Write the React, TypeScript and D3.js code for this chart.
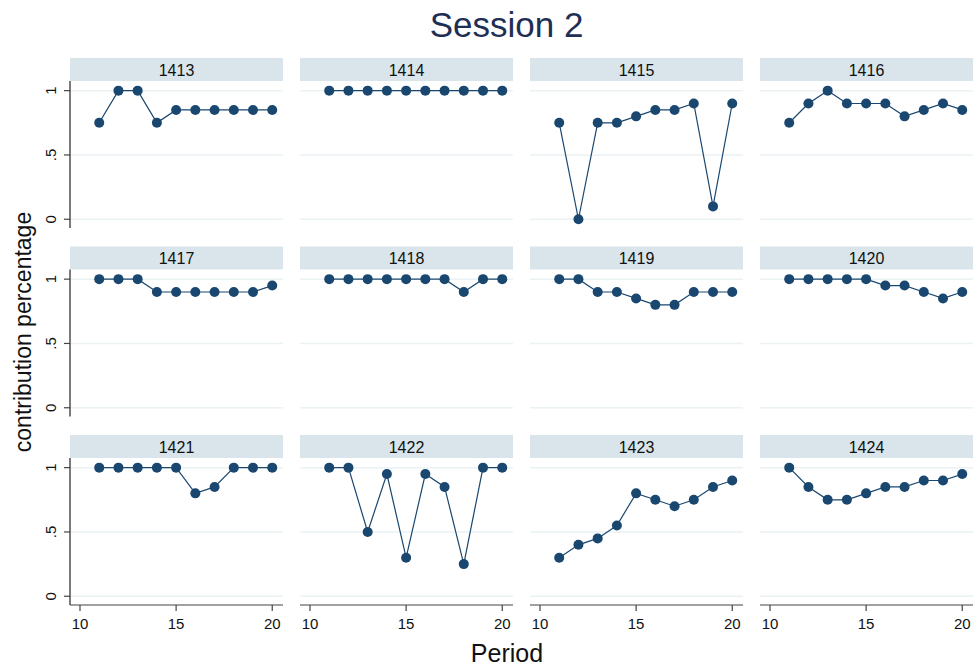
import { useEffect } from 'react';
import * as d3 from 'd3';

// periods on the x axis
const periods = [11, 12, 13, 14, 15, 16, 17, 18, 19, 20];

// contribution share per group, one list each
const g1413 = [0.75, 1, 1, 0.75, 0.85, 0.85, 0.85, 0.85, 0.85, 0.85];
const g1414 = [1, 1, 1, 1, 1, 1, 1, 1, 1, 1];
const g1415 = [0.75, 0, 0.75, 0.75, 0.8, 0.85, 0.85, 0.9, 0.1, 0.9];
const g1416 = [0.75, 0.9, 1, 0.9, 0.9, 0.9, 0.8, 0.85, 0.9, 0.85];
const g1417 = [1, 1, 1, 0.9, 0.9, 0.9, 0.9, 0.9, 0.9, 0.95];
const g1418 = [1, 1, 1, 1, 1, 1, 1, 0.9, 1, 1];
const g1419 = [1, 1, 0.9, 0.9, 0.85, 0.8, 0.8, 0.9, 0.9, 0.9];
const g1420 = [1, 1, 1, 1, 1, 0.95, 0.95, 0.9, 0.85, 0.9];
const g1421 = [1, 1, 1, 1, 1, 0.8, 0.85, 1, 1, 1];
const g1422 = [1, 1, 0.5, 0.95, 0.3, 0.95, 0.85, 0.25, 1, 1];
const g1423 = [0.3, 0.4, 0.45, 0.55, 0.8, 0.75, 0.7, 0.75, 0.85, 0.9];
const g1424 = [1, 0.85, 0.75, 0.75, 0.8, 0.85, 0.85, 0.9, 0.9, 0.95];

const groupIds = ['1413', '1414', '1415', '1416', '1417', '1418', '1419', '1420', '1421', '1422', '1423', '1424'];
const groupValues = [g1413, g1414, g1415, g1416, g1417, g1418, g1419, g1420, g1421, g1422, g1423, g1424];

const xTicks = [10, 15, 20];
const yTicks = [0, 0.5, 1];
const yTickLabels = ['0', '.5', '1'];

const navy = '#1a476f';
const stripFill = '#d9e5ea';
const gridColor = '#eaf2f3';
const font = 'Arial, "Liberation Sans", Helvetica, sans-serif';

const colLeft = [70, 300, 530, 760];
const stripTop = [58, 246.5, 435];
const panelW = 213;
const stripH = 23;
const plotH = 147;

const x = d3.scaleLinear().domain([9.48, 20.56]).range([0, panelW]);
const y = d3.scaleLinear().domain([-0.068, 1.075]).range([plotH, 0]);

export default function App() {
  useEffect(() => {
    document.body.style.margin = '0';
  }, []);

  const line = d3.line<number>()
    .x((_, i) => x(periods[i]))
    .y((d) => y(d));

  return (
    <svg width={975} height={670} style={{ display: 'block', background: '#fff' }} fontFamily={font}>
      <text x={506.5} y={37} textAnchor="middle" fontSize={35} fill="#1e2e55">Session 2</text>

      {groupIds.map((id, k) => {
        const col = k % 4;
        const row = Math.floor(k / 4);
        const left = colLeft[col];
        const top = stripTop[row] + stripH;
        const vals = groupValues[k];
        return (
          <g key={id}>
            <rect x={left} y={stripTop[row]} width={panelW} height={stripH} fill={stripFill} />
            <text x={left + panelW / 2} y={stripTop[row] + 17.5} textAnchor="middle" fontSize={16} fill="#111">{id}</text>
            <g transform={`translate(${left},${top})`}>
              {yTicks.map((t) => (
                <line key={t} x1={0} x2={panelW} y1={y(t)} y2={y(t)} stroke={gridColor} strokeWidth={1.5} />
              ))}
              <path d={line(vals) ?? ''} fill="none" stroke={navy} strokeWidth={1.2} />
              {vals.map((v, i) => (
                <circle key={i} cx={x(periods[i])} cy={y(v)} r={5} fill={navy} />
              ))}
              {col === 0 && (
                <g>
                  <line x1={0} x2={0} y1={0} y2={plotH} stroke="#222" strokeWidth={1.2} />
                  {yTicks.map((t, i) => (
                    <g key={t}>
                      <line x1={-6} x2={0} y1={y(t)} y2={y(t)} stroke="#444" strokeWidth={1.2} />
                      <text transform={`translate(-14,${y(t)}) rotate(-90)`} textAnchor="middle" fontSize={15} fill="#111">
                        {yTickLabels[i]}
                      </text>
                    </g>
                  ))}
                </g>
              )}
              {row === 2 && (
                <g>
                  <line x1={0} x2={panelW} y1={plotH} y2={plotH} stroke="#444" strokeWidth={1.2} />
                  {xTicks.map((t) => (
                    <g key={t}>
                      <line x1={x(t)} x2={x(t)} y1={plotH} y2={plotH + 6} stroke="#444" strokeWidth={1.2} />
                      <text x={x(t)} y={plotH + 24} textAnchor="middle" fontSize={15} fill="#111">{t}</text>
                    </g>
                  ))}
                </g>
              )}
            </g>
          </g>
        );
      })}

      <text transform="translate(31,332) rotate(-90)" textAnchor="middle" fontSize={23} fill="#111">contribution percentage</text>
      <text x={507} y={662} textAnchor="middle" fontSize={25} fill="#111">Period</text>
    </svg>
  );
}
